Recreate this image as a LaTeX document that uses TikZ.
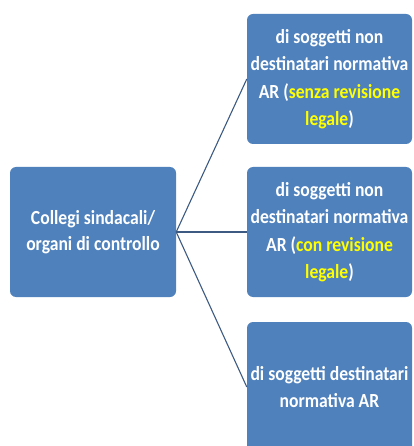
\documentclass[tikz,border=0pt]{standalone}
\usepackage{fontspec}
\setmainfont{Carlito}[FakeStretch=0.88]
\definecolor{boxblue}{HTML}{4F81BD}
\definecolor{linecol}{HTML}{3D5B82}
\definecolor{hl}{HTML}{FFFF00}
\tikzset{
  box/.style={fill=boxblue, rounded corners=6pt, minimum width=165pt, minimum height=130pt,
    text=white, align=center, inner sep=2pt, font=\fontsize{20}{27.5}\selectfont\bfseries},
  conn/.style={draw=linecol, line width=1.1pt}
}
\begin{document}
\begin{tikzpicture}[x=1pt,y=1pt]
\useasboundingbox (0,0) rectangle (413,-446);
\node[box, minimum width=166pt, font=\fontsize{20}{26}\selectfont\bfseries] (root) at (93,-232) {Collegi sindacali/\\organi di controllo};
\node[box] (a) at (329.5,-79) {di soggetti non\\destinatari normativa\\AR (\textcolor{hl}{senza revisione}\\\textcolor{hl}{legale})};
\node[box] (b) at (329.5,-232) {di soggetti non\\destinatari normativa\\AR (\textcolor{hl}{con revisione}\\\textcolor{hl}{legale})};
\node[box] (c) at (329.5,-387) {di soggetti destinatari\\normativa AR};
\draw[conn] (root.east) -- (a.west);
\draw[conn] (root.east) -- (b.west);
\draw[conn] (root.east) -- (c.west);
\end{tikzpicture}
\end{document}
